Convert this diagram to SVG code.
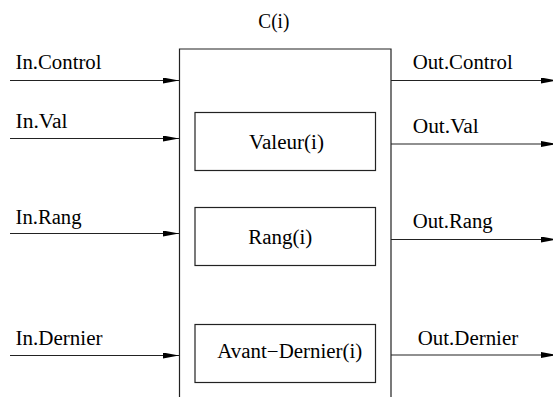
<svg xmlns="http://www.w3.org/2000/svg" width="553" height="397" viewBox="0 0 553 397">
<style>
text{font-family:"Liberation Serif","Times New Roman",serif;font-size:20px;fill:#000}
.box{fill:none;stroke:#222;stroke-width:1.2}
.wire{fill:none;stroke:#222;stroke-width:1.2}
</style>
<defs>
<marker id="ah" viewBox="0 0 16 6" refX="16" refY="3" markerWidth="16" markerHeight="6" markerUnits="userSpaceOnUse" orient="auto">
<path d="M0,0 L16,3 L0,6 z" fill="#000"/>
</marker>
</defs>
<rect width="553" height="397" fill="#fff"/>
<g id="C">
<path class="box" d="M179.5 400 V49 H391 V400"/>
<text x="258.3" y="28" textLength="31" lengthAdjust="spacingAndGlyphs">C(i)</text>
</g>
<g id="valeur">
<rect class="box" x="195" y="112.5" width="180.5" height="58"/>
<text x="249" y="149" textLength="75" lengthAdjust="spacingAndGlyphs">Valeur(i)</text>
</g>
<g id="rang">
<rect class="box" x="195" y="207.5" width="180.5" height="58"/>
<text x="248.3" y="244.3" textLength="64" lengthAdjust="spacingAndGlyphs">Rang(i)</text>
</g>
<g id="avant">
<rect class="box" x="195" y="324.5" width="180.5" height="58"/>
<text x="217.3" y="357.7" textLength="145" lengthAdjust="spacingAndGlyphs">Avant−Dernier(i)</text>
</g>
<g id="connectors">
<path class="wire" d="M10 80.5 H179" marker-end="url(#ah)"/>
<path class="wire" d="M10 138.5 H179" marker-end="url(#ah)"/>
<path class="wire" d="M10 233.5 H179" marker-end="url(#ah)"/>
<path class="wire" d="M10 355.5 H179" marker-end="url(#ah)"/>
<path class="wire" d="M391 80.5 H557" marker-end="url(#ah)"/>
<path class="wire" d="M391 144 H557" marker-end="url(#ah)"/>
<path class="wire" d="M391 239.5 H557" marker-end="url(#ah)"/>
<path class="wire" d="M391 355 H557" marker-end="url(#ah)"/>
<text x="15.5" y="69.3" textLength="86" lengthAdjust="spacingAndGlyphs">In.Control</text>
<text x="15.5" y="128.3" textLength="52" lengthAdjust="spacingAndGlyphs">In.Val</text>
<text x="15.5" y="224.3" textLength="66" lengthAdjust="spacingAndGlyphs">In.Rang</text>
<text x="15.5" y="345" textLength="87" lengthAdjust="spacingAndGlyphs">In.Dernier</text>
<text x="412.7" y="69.3" textLength="100" lengthAdjust="spacingAndGlyphs">Out.Control</text>
<text x="412.7" y="133.3" textLength="66" lengthAdjust="spacingAndGlyphs">Out.Val</text>
<text x="412.7" y="228.3" textLength="80" lengthAdjust="spacingAndGlyphs">Out.Rang</text>
<text x="417.7" y="345" textLength="100.5" lengthAdjust="spacingAndGlyphs">Out.Dernier</text>
</g>
</svg>
